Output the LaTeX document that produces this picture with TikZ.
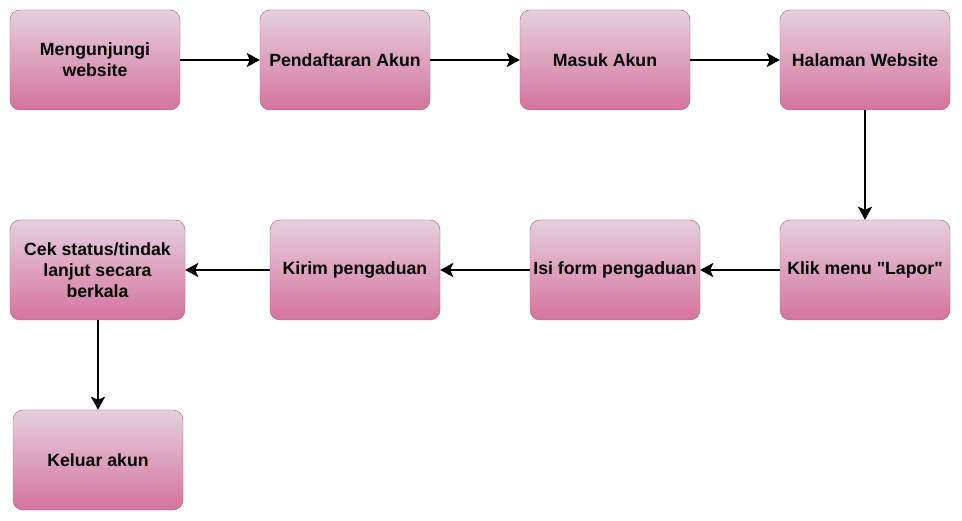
\documentclass[tikz,border=0pt]{standalone}
\usepackage{xcolor}
\usepackage{tikz}
\usetikzlibrary{arrows.meta}
\usepackage{fontspec}
\newfontfamily\hurufKotak{Liberation Sans}

\begin{document}
\begin{tikzpicture}[x=1pt, y=-1pt,
  every node/.style={rectangle, rounded corners=10pt, draw=bordeUngu, top color=atasPink, bottom color=bawahPink,
    minimum width=170pt, minimum height=100pt, inner sep=0pt, align=center, font=\hurufKotak\fontsize{17.7}{21}\selectfont\bfseries},
  panah/.style={line width=2.8pt, -{Stealth[length=13pt, width=14pt, inset=3pt]}}]
  \definecolor{atasPink}{HTML}{E6D0DE}
  \definecolor{bawahPink}{HTML}{D5739D}
  \definecolor{bordeUngu}{HTML}{996185}

  \useasboundingbox (0,0) rectangle (962,521);

  \node (kunjung) at (95,60)   {Mengunjungi\\website};
  \node (daftar)  at (345,60)  {Pendaftaran Akun};
  \node (masuk)   at (605,60)  {Masuk Akun};
  \node (halaman) at (865,60)  {Halaman Website};
  \node (lapor)   at (865,270) {Klik menu "Lapor"};
  \node (isi)     at (615,270) {Isi form pengaduan};
  \node (kirim)   at (355,270) {Kirim pengaduan};
  \node[minimum width=175pt] (cek) at (97.5,270) {Cek status/tindak\\lanjut secara\\berkala};
  \node (keluar)  at (98,460)  {Keluar akun};

  \draw[panah] (kunjung) -- (daftar);
  \draw[panah] (daftar) -- (masuk);
  \draw[panah] (masuk) -- (halaman);
  \draw[panah] (halaman) -- (lapor);
  \draw[panah] (lapor) -- (isi);
  \draw[panah] (isi) -- (kirim);
  \draw[panah] (kirim) -- (cek);
  \draw[panah] (cek.south -| keluar) -- (keluar);
\end{tikzpicture}
\end{document}
